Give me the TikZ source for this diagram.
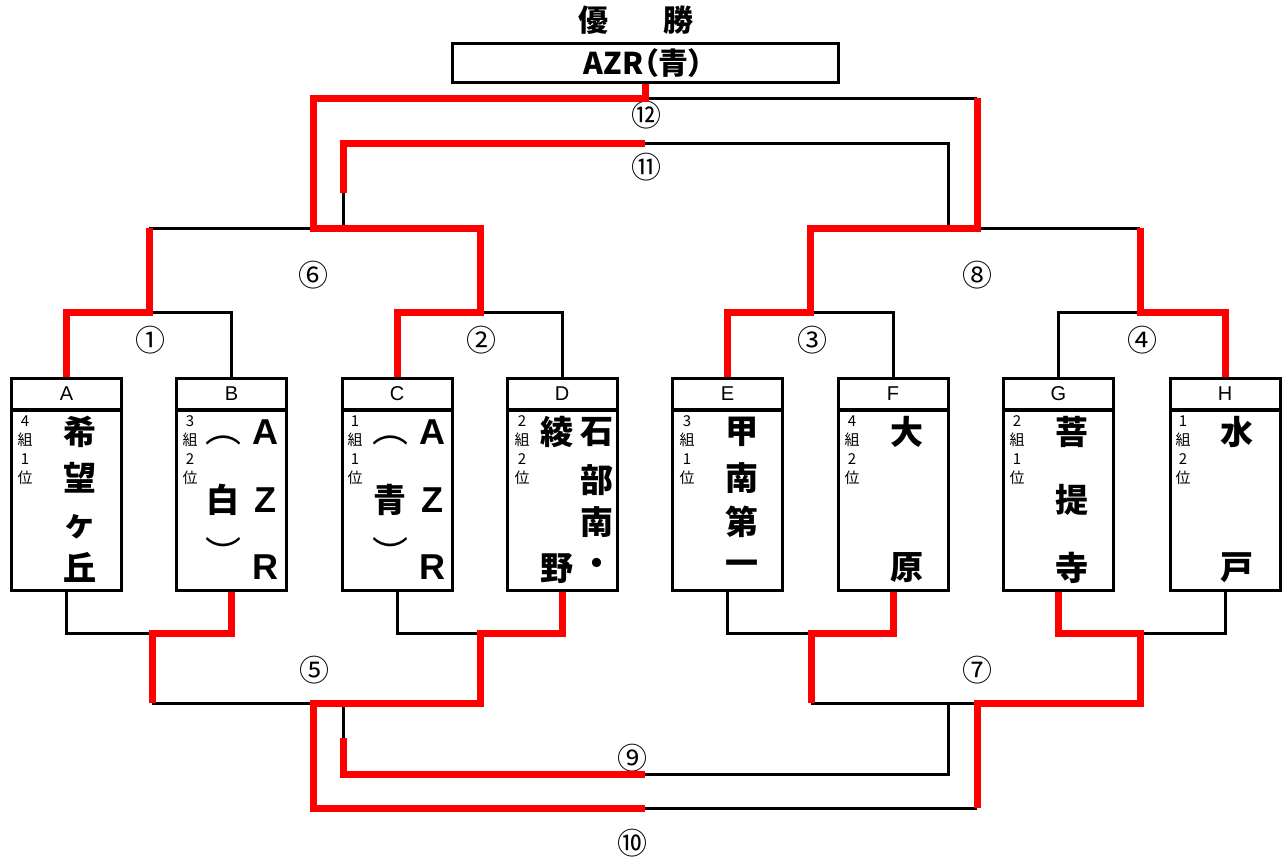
\documentclass[tikz,border=0pt]{standalone}
\usepackage{fontspec}
\newfontfamily\jp{Noto Sans CJK JP}
\newfontfamily\jpp[RawFeature=+palt]{Noto Sans CJK JP}
\newfontfamily\lsans{Liberation Sans}
\begin{document}
\begin{tikzpicture}[x=1pt,y=-1pt,
  blk/.style={line width=3pt, black},
  rd/.style={line width=7pt, red},
  hdr/.style={draw, line width=3pt, minimum width=110pt, minimum height=31.5pt, inner sep=0pt, font=\lsans\fontsize{20}{20}\selectfont},
  body/.style={draw, line width=3pt, minimum width=110pt, minimum height=180pt, inner sep=0pt},
  nm/.style={inner sep=0pt, font=\jp\bfseries\fontsize{33}{33}\selectfont},
  brk/.style={inner sep=0pt, font=\jp\fontsize{36}{36}\selectfont},
  lat/.style={inner sep=0pt, font=\lsans\bfseries\fontsize{36}{36}\selectfont},
  sm/.style={inner sep=0pt, align=center, font=\jp\fontsize{15}{19}\selectfont},
  num/.style={inner sep=0pt, font=\jp\fontsize{30}{30}\selectfont},
  ttl/.style={inner sep=0pt, font=\jp\bfseries\fontsize{30}{30}\selectfont}]
\useasboundingbox (0,0) rectangle (1283,860);

% title
\node[ttl] (yu) at (593,20) {優};
\node[ttl] (sho) at (678,20) {勝};
\node[draw, line width=3pt, minimum width=386pt, minimum height=39pt, inner sep=0pt] (win) at (645.5,63) {};
\node[inner sep=0pt, font=\jpp\bfseries\fontsize{30}{30}\selectfont] (wint) at (643.5,63) {AZR（青）};

% boxes
\foreach \n/\x in {A/66.5,B/231.5,C/397,D/562,E/727.5,F/893,G/1058.5,H/1225}{
  \node[hdr] (h\n) at (\x,394) {\n};
  \node[body] (b\n) at (\x,500) {};
}
% small labels
\node[sm] (sA) at (25,450) {4\\組\\1\\位};
\node[sm] (sB) at (190,450) {3\\組\\2\\位};
\node[sm] (sC) at (355,450) {1\\組\\1\\位};
\node[sm] (sD) at (522,450) {2\\組\\2\\位};
\node[sm] (sE) at (687,450) {3\\組\\1\\位};
\node[sm] (sF) at (852,450) {4\\組\\2\\位};
\node[sm] (sG) at (1017,450) {2\\組\\1\\位};
\node[sm] (sH) at (1183,450) {1\\組\\2\\位};

% names
\node[nm] (a1) at (80,432) {希};
\node[nm] (a2) at (80,478) {望};
\node[nm] (a3) at (80,527) {ヶ};
\node[nm] (a4) at (80,567) {丘};

\node[lat] (b1n) at (265,432) {A};
\node[lat] (b2n) at (265,500) {Z};
\node[lat] (b3n) at (265,567) {R};
\node[brk] (b4n) at (223,440) {︵};
\node[nm] (b5n) at (223,500) {白};
\node[brk] (b6n) at (223,552) {︶};

\node[lat] (c1n) at (432,432) {A};
\node[lat] (c2n) at (432,500) {Z};
\node[lat] (c3n) at (432,567) {R};
\node[brk] (c4n) at (390,440) {︵};
\node[nm] (c5n) at (390,500) {青};
\node[brk] (c6n) at (390,552) {︶};

\node[nm] (d1n) at (597,432) {石};
\node[nm] (d2n) at (597,480) {部};
\node[nm] (d3n) at (597,522) {南};
\node[nm] (d4n) at (597,567) {・};
\node[nm] (d5n) at (557,432) {綾};
\node[nm] (d6n) at (557,569) {野};

\node[nm] (e1n) at (742,432) {甲};
\node[nm] (e2n) at (742,478) {南};
\node[nm] (e3n) at (742,522) {第};
\node[nm] (e4n) at (742,568) {一};

\node[nm] (f1n) at (907,432) {大};
\node[nm] (f2n) at (907,568) {原};

\node[nm] (g1n) at (1072,432) {菩};
\node[nm] (g2n) at (1072,500) {提};
\node[nm] (g3n) at (1072,568) {寺};

\node[nm] (h1n) at (1237,432) {水};
\node[nm] (h2n) at (1237,568) {戸};

% match numbers
\node[num] (m1) at (150,340) {①};
\node[num] (m2) at (481,340) {②};
\node[num] (m3) at (812,340) {③};
\node[num] (m4) at (1142,340) {④};
\node[num] (m5) at (314,670) {⑤};
\node[num] (m6) at (313,275) {⑥};
\node[num] (m7) at (977,670) {⑦};
\node[num] (m8) at (977,275) {⑧};
\node[num] (m9) at (632,758) {⑨};
\node[num] (m10) at (632,843) {⑩};
\node[num] (m11) at (646,167) {⑪};
\node[num] (m12) at (646,115) {⑫};

% coordinates (top)
\coordinate (t1) at (149,312); \coordinate (t2) at (480,312);
\coordinate (t3) at (810,312); \coordinate (t4) at (1140,312);
\coordinate (t6L) at (149,228); \coordinate (t6R) at (480,228);
\coordinate (t6M) at (313,228); \coordinate (t6x) at (343,228);
\coordinate (t8L) at (810,228); \coordinate (t8R) at (1140,228);
\coordinate (t8M) at (977,228); \coordinate (t8x) at (948,228);
\coordinate (t11s) at (343,193); \coordinate (t11L) at (343,143); \coordinate (t11M) at (645,143);
\coordinate (t12L) at (313,98); \coordinate (t12M) at (645.5,98); \coordinate (t12R) at (977,98);
% coordinates (bottom)
\coordinate (u1) at (152,633); \coordinate (u2) at (480,633);
\coordinate (u3) at (811,633); \coordinate (u4) at (1140,633);
\coordinate (u5L) at (152,703); \coordinate (u5R) at (480,703);
\coordinate (u5M) at (313,703); \coordinate (u5x) at (343,703);
\coordinate (u7L) at (811,703); \coordinate (u7R) at (1140,703);
\coordinate (u7M) at (977,703); \coordinate (u7x) at (948,703);
\coordinate (u9s) at (343,738); \coordinate (u9L) at (343,774); \coordinate (u9M) at (645,774);
\coordinate (u10L) at (313,808); \coordinate (u10M) at (645,808); \coordinate (u10R) at (977,808);

% black lines
\draw[blk] (hB.north) |- (t1);
\draw[blk] (t6L) -- (t6M);
\draw[blk] (hD.north) |- (t2);
\draw[blk] (t6x) -- (t11s);
\draw[blk] (t11M) -| (t8x);
\draw[blk] (t12M) -- (t12R);
\draw[blk] (hF.north) |- (t3);
\draw[blk] (t8M) -- (t8R);
\draw[blk] (hG.north) |- (t4);

\draw[blk] (bA.south) |- (u1);
\draw[blk] (u5L) -- (u5M);
\draw[blk] (bC.south) |- (u2);
\draw[blk] (u5x) -- (u9s);
\draw[blk] (u9M) -| (u7x);
\draw[blk] (u10M) -- (u10R);
\draw[blk] (bE.south) |- (u3);
\draw[blk] (u7L) -- (u7M);
\draw[blk] (bH.south) |- (u4);

% red lines
\draw[rd] (hA.north) |- (t1) -- (t6L);
\draw[rd] (hC.north) |- (t2) -- (t6R) -- (t6M) -- (t12L) -- (t12M) -- (win.south);
\draw[rd] (t11s) -- (t11L) -- (t11M);
\draw[rd] (hE.north) |- (t3) -- (t8L) -- (t8M) -- (t12R);
\draw[rd] (hH.north) |- (t4) -- (t8R);

\draw[rd] (bB.south) |- (u1) -- (u5L);
\draw[rd] (bD.south) |- (u2) -- (u5R) -- (u5M) -- (u10L) -- (u10M);
\draw[rd] (u9s) -- (u9L) -- (u9M);
\draw[rd] (bF.south) |- (u3) -- (u7L);
\draw[rd] (bG.south) |- (u4) -- (u7R) -- (u7M) -- (u10R);
\end{tikzpicture}
\end{document}
